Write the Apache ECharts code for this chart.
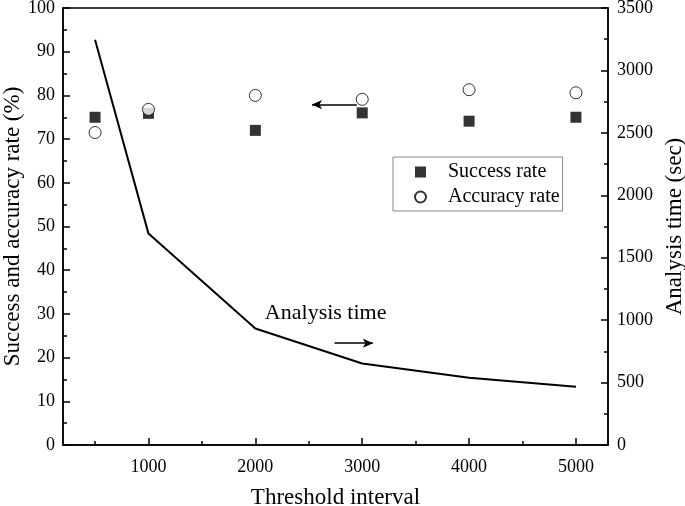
<!DOCTYPE html>
<html>
<head>
<meta charset="utf-8">
<script src="https://cdn.jsdelivr.net/npm/echarts@6/dist/echarts.min.js"></script>
<style>html,body{margin:0;padding:0;background:#fff}#c{width:685px;height:506px}</style>
</head>
<body>
<div id="c"></div>
<script>
const thresholds = [500, 1000, 2000, 3000, 4000, 5000];
const successRate = [75.0, 75.9, 72.0, 76.0, 74.1, 75.0];
const accuracyRate = [71.5, 76.8, 80.0, 79.1, 81.3, 80.6];
const analysisTime = [3245, 1693, 933, 653, 539, 467];
const xMajorTicks = [1000, 2000, 3000, 4000, 5000];
const xMinorTicks = [500, 1500, 2500, 3500, 4500];

const FONT = 'Liberation Serif';
const chart = echarts.init(document.getElementById('c'), null, {renderer: 'canvas'});

const axisLineStyle = {color: '#000', width: 1.5};
const plain = v => String(v);

const option = {
  backgroundColor: '#fff',
  animation: false,
  textStyle: {fontFamily: FONT, color: '#000'},
  grid: {left: 63, right: 77, top: 8, bottom: 61, outerBoundsMode: 'none', containLabel: false,
         show: true, borderColor: '#000', borderWidth: 1.5, backgroundColor: 'transparent'},
  legend: {
    data: ['Success rate', 'Accuracy rate'],
    orient: 'vertical',
    left: 393, top: 157,
    borderColor: '#888', borderWidth: 1,
    padding: [5, 3, 4, 21],
    itemWidth: 11, itemHeight: 11, itemGap: 5,
    textStyle: {fontFamily: FONT, fontSize: 20, color: '#000', lineHeight: 20, padding: [0, 0, 0, 17]}
  },
  xAxis: [
    {
      type: 'value', min: 200, max: 5300,
      name: 'Threshold interval', nameLocation: 'middle', nameGap: 41,
      nameTextStyle: {fontFamily: FONT, fontSize: 23, color: '#000'},
      axisLine: {lineStyle: axisLineStyle},
      axisTick: {show: true, inside: true, length: 7, lineStyle: {color: '#000', width: 1.5}, customValues: xMajorTicks},
      axisLabel: {fontFamily: FONT, fontSize: 18, color: '#000', margin: 13, formatter: plain, customValues: xMajorTicks},
      splitLine: {show: false}
    },
    {
      type: 'value', min: 200, max: 5300, position: 'bottom',
      axisLine: {show: false},
      axisTick: {show: true, inside: true, length: 4, lineStyle: {color: '#000', width: 1.5}, customValues: xMinorTicks},
      axisLabel: {show: false},
      splitLine: {show: false}
    }
  ],
  yAxis: [
    {
      type: 'value', min: 0, max: 100, interval: 10,
      name: 'Success and accuracy rate (%)', nameLocation: 'middle', nameGap: 39, nameMoveOverlap: false,
      nameTextStyle: {fontFamily: FONT, fontSize: 23, color: '#000'},
      axisLine: {show: true, lineStyle: axisLineStyle},
      axisTick: {show: true, inside: true, length: 7, lineStyle: {color: '#000', width: 1.5}},
      minorTick: {show: true, splitNumber: 2, length: 4, lineStyle: {color: '#000', width: 1.5}},
      axisLabel: {fontFamily: FONT, fontSize: 18, color: '#000', margin: 8, formatter: plain},
      splitLine: {show: false}
    },
    {
      type: 'value', min: 0, max: 3500, interval: 500, position: 'right',
      name: 'Analysis time (sec)', nameLocation: 'middle', nameGap: 55, nameRotate: 90,
      nameTextStyle: {fontFamily: FONT, fontSize: 23, color: '#000'},
      axisLine: {show: true, lineStyle: axisLineStyle},
      axisTick: {show: true, inside: true, length: 7, lineStyle: {color: '#000', width: 1.5}},
      minorTick: {show: true, splitNumber: 2, length: 4, lineStyle: {color: '#000', width: 1.5}},
      axisLabel: {fontFamily: FONT, fontSize: 18, color: '#000', margin: 9, formatter: plain},
      splitLine: {show: false}
    }
  ],
  series: [
    {
      name: 'Analysis time', type: 'line', xAxisIndex: 0, yAxisIndex: 1,
      data: thresholds.map((x, i) => [x, analysisTime[i]]),
      symbol: 'none', lineStyle: {color: '#000', width: 2}, z: 2, silent: true
    },
    {
      name: 'Success rate', type: 'scatter', xAxisIndex: 0, yAxisIndex: 0,
      data: thresholds.map((x, i) => [x, successRate[i]]),
      symbol: 'rect', symbolSize: 11, itemStyle: {color: '#000'}, z: 4,
      markLine: {
        silent: true, symbol: ['none', 'arrow'], symbolSize: [7, 10],
        label: {show: false},
        lineStyle: {color: '#000', width: 1.5, type: 'solid'},
        data: [
          [{coord: [2950, 77.9]}, {coord: [2530, 77.9]}],
          [{coord: [2740, 23.3]}, {coord: [3100, 23.3]}]
        ]
      }
    },
    {
      name: 'Accuracy rate', type: 'scatter', xAxisIndex: 0, yAxisIndex: 0,
      data: thresholds.map((x, i) => [x, accuracyRate[i]]),
      symbol: 'circle', symbolSize: 12, itemStyle: {color: '#fff', borderColor: '#000', borderWidth: 1}, z: 5
    }
  ]
};
chart.setOption(option);
const p = chart.convertToPixel({xAxisIndex: 0, yAxisIndex: 0}, [2658, 30.2]);
chart.setOption({
  graphic: [{
    type: 'text', x: p[0], y: p[1],
    style: {text: 'Analysis time', fontFamily: FONT, fontSize: 22, fill: '#000', align: 'center', verticalAlign: 'middle'}
  }]
});
</script>
</body>
</html>
